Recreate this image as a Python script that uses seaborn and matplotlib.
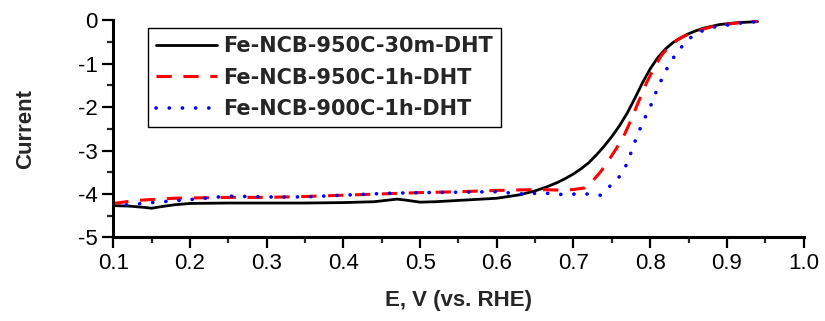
import matplotlib
matplotlib.use("Agg")
import matplotlib.pyplot as plt
import seaborn as sns
import pandas as pd
from matplotlib.ticker import MultipleLocator, FuncFormatter

labels = ["Fe-NCB-950C-30m-DHT", "Fe-NCB-950C-1h-DHT", "Fe-NCB-900C-1h-DHT"]

x_black = [0.10, 0.12, 0.14, 0.15, 0.16, 0.18, 0.20, 0.25, 0.30, 0.35, 0.40, 0.44, 0.46, 0.47, 0.48,
           0.50, 0.52, 0.55, 0.60, 0.63, 0.65, 0.665, 0.68, 0.69, 0.70, 0.71, 0.72, 0.73, 0.74, 0.75,
           0.76, 0.77, 0.78, 0.79, 0.80, 0.81, 0.82, 0.83, 0.84, 0.85, 0.86, 0.87, 0.89, 0.91, 0.94]
y_black = [-4.27, -4.28, -4.31, -4.33, -4.30, -4.25, -4.22, -4.21, -4.21, -4.21, -4.20, -4.18, -4.14, -4.12, -4.14,
           -4.19, -4.18, -4.15, -4.10, -4.02, -3.93, -3.84, -3.73, -3.64, -3.54, -3.42, -3.28, -3.10, -2.90, -2.68,
           -2.43, -2.14, -1.80, -1.44, -1.12, -0.86, -0.66, -0.51, -0.40, -0.31, -0.24, -0.18, -0.10, -0.06, -0.03]

x_red = [0.10, 0.13, 0.18, 0.25, 0.30, 0.35, 0.40, 0.45, 0.50, 0.55, 0.60, 0.65, 0.68, 0.70,
         0.715, 0.725, 0.735, 0.745, 0.755, 0.765, 0.775, 0.785, 0.795, 0.805, 0.815, 0.825,
         0.835, 0.845, 0.86, 0.88, 0.90, 0.92, 0.94]
y_red = [-4.22, -4.15, -4.10, -4.08, -4.08, -4.06, -4.03, -4.00, -3.97, -3.95, -3.92, -3.90, -3.91, -3.90,
         -3.86, -3.70, -3.50, -3.25, -2.98, -2.69, -2.30, -1.87, -1.45, -1.10, -0.80, -0.60,
         -0.46, -0.36, -0.25, -0.15, -0.09, -0.05, -0.02]

x_blue = [0.10, 0.15, 0.20, 0.25, 0.30, 0.35, 0.40, 0.45, 0.50, 0.55, 0.60, 0.63, 0.66, 0.69,
          0.71, 0.735, 0.75, 0.76, 0.77, 0.78, 0.79, 0.80, 0.81, 0.82, 0.83, 0.845, 0.86,
          0.885, 0.92, 0.94]
y_blue = [-4.28, -4.20, -4.13, -4.05, -4.07, -4.07, -4.03, -3.99, -3.97, -3.96, -3.95, -4.00, -3.98, -4.02,
          -3.99, -4.03, -3.78, -3.60, -3.30, -2.80, -2.36, -2.00, -1.55, -1.17, -0.87, -0.52, -0.29,
          -0.15, -0.06, -0.03]

xs = [x_black, x_red, x_blue]
ys = [y_black, y_red, y_blue]
colors = ["black", "#ff0000", "#0000ff"]

sns.set_style("ticks")
plt.rcParams["font.family"] = ["Liberation Sans", "DejaVu Sans"]

fig = plt.figure(figsize=(8.25, 3.21), dpi=100)
ax = fig.add_axes([0.1373, 0.2607, 0.8367, 0.6761])

styles = [dict(linewidth=2.0, linestyle="-"),
          dict(linewidth=2.2, linestyle=(0, (5.0, 3.8))),
          dict(linewidth=2.6, linestyle=(0, (0.05, 3.6)), dash_capstyle="round")]

for lab, xv, yv, c, st in zip(labels, xs, ys, colors, styles):
    df = pd.DataFrame({"E": xv, "I": yv})
    sns.lineplot(data=df, x="E", y="I", ax=ax, color=c, label=lab, sort=False, **st)

ax.set_xlim(0.1, 1.0)
ax.set_ylim(-5, 0)
ax.xaxis.set_major_locator(MultipleLocator(0.1))
ax.xaxis.set_minor_locator(MultipleLocator(0.05))
ax.yaxis.set_major_locator(MultipleLocator(1))
ax.yaxis.set_minor_locator(MultipleLocator(0.5))
ax.xaxis.set_major_formatter(FuncFormatter(lambda v, p: f"{v:.1f}"))
ax.yaxis.set_major_formatter(FuncFormatter(lambda v, p: f"{int(round(v))}".replace("\u2212", "-")))

for s in ["top", "right"]:
    ax.spines[s].set_visible(False)
for s in ["left", "bottom"]:
    ax.spines[s].set_linewidth(2.2)
    ax.spines[s].set_color("black")

ax.tick_params(which="major", direction="out", length=8, width=1.6, labelsize=16, pad=3, colors="black")
ax.tick_params(which="minor", direction="out", length=4.5, width=1.6)

ax.set_xlabel("E, V (vs. RHE)", fontsize=16, fontweight="bold", labelpad=12)
ax.set_ylabel("Current", fontsize=16, fontweight="bold", labelpad=30)

leg = ax.legend(loc="upper left", bbox_to_anchor=(0.05, 0.965), borderaxespad=0,
                frameon=True, fancybox=False, framealpha=1, edgecolor="black",
                prop={"size": 15, "weight": "bold", "family": "DejaVu Sans"},
                handlelength=2.9, labelspacing=0.55,
                handletextpad=0.3, borderpad=0.4)
leg.get_frame().set_linewidth(1.0)

fig.savefig("out.png", dpi=100)
